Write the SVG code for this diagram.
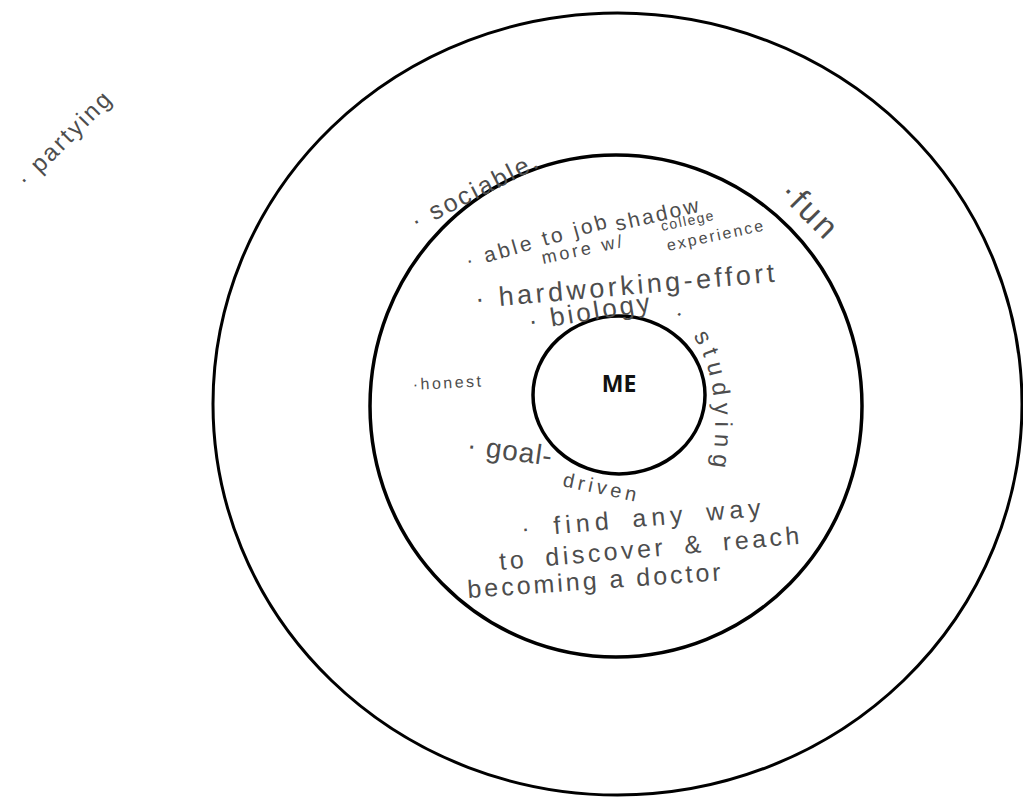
<svg xmlns="http://www.w3.org/2000/svg" width="1023" height="799" viewBox="0 0 1023 799">
<style>
.ring{fill:none;stroke:#000;}
.hw{font-family:"Liberation Sans","DejaVu Sans",sans-serif;fill:#4d4d4d;}
.me{font-family:"Open Sans","Liberation Sans",sans-serif;font-weight:bold;font-size:23px;fill:#111;text-anchor:middle;}
</style>
<defs>
<path id="studyArc" d="M 672 318 C 714 338, 724 420, 708 490"/>
</defs>
<rect width="1023" height="799" fill="#fff"/>
<g id="outer-ring"><ellipse class="ring" cx="617.5" cy="404" rx="404.5" ry="391" stroke-width="3"/></g>
<g id="middle-ring"><ellipse class="ring" cx="616" cy="406" rx="246" ry="251" stroke-width="3.5"/></g>
<g id="inner-ring"><ellipse class="ring" cx="619" cy="395" rx="86" ry="79" stroke-width="3.5"/>
<text class="me" x="619" y="392">ME</text></g>
<g id="labels">
<text class="hw" font-size="24" letter-spacing="2.5" transform="translate(26,188) rotate(-45)">· partying</text>
<text class="hw" font-size="25" letter-spacing="2.5" transform="translate(416,230) rotate(-27)">· sociable.</text>
<text class="hw" font-size="33" letter-spacing="3" transform="translate(778,194) rotate(45)">·fun</text>
<text class="hw" font-size="21" letter-spacing="3" transform="translate(468,268) rotate(-16)">· able to job</text>
<text class="hw" font-size="21" letter-spacing="2.5" transform="translate(617,231) rotate(-13)">shadow</text>
<text class="hw" font-size="18" letter-spacing="3" transform="translate(543,264) rotate(-12)">more w/</text>
<text class="hw" font-size="14" letter-spacing="1.5" transform="translate(662,231) rotate(-12)">college</text>
<text class="hw" font-size="16" letter-spacing="2.2" transform="translate(668,251) rotate(-12)">experience</text>
<text class="hw" font-size="27" letter-spacing="3.5" transform="translate(476,308) rotate(-5)">· hardworking-effort</text>
<text class="hw" font-size="26" letter-spacing="3" transform="translate(530,330) rotate(-9)">· biology</text>
<text class="hw" font-size="24" letter-spacing="6.5"><textPath href="#studyArc">· studying</textPath></text>
<text class="hw" font-size="16" letter-spacing="2.5" transform="translate(413,390) rotate(-3)">·honest</text>
<text class="hw" font-size="28" letter-spacing="1" transform="translate(466,454) rotate(8)">· goal-</text>
<text class="hw" font-size="20" letter-spacing="4" transform="translate(562,486) rotate(12)">driven</text>
<text class="hw" font-size="25" letter-spacing="5" word-spacing="7" transform="translate(522,537) rotate(-5)">· find any way</text>
<text class="hw" font-size="25" letter-spacing="3.5" word-spacing="8" transform="translate(500,570) rotate(-5)">to discover &amp; reach</text>
<text class="hw" font-size="25" letter-spacing="3" transform="translate(468,598) rotate(-4)">becoming a doctor</text>
</g>
</svg>
